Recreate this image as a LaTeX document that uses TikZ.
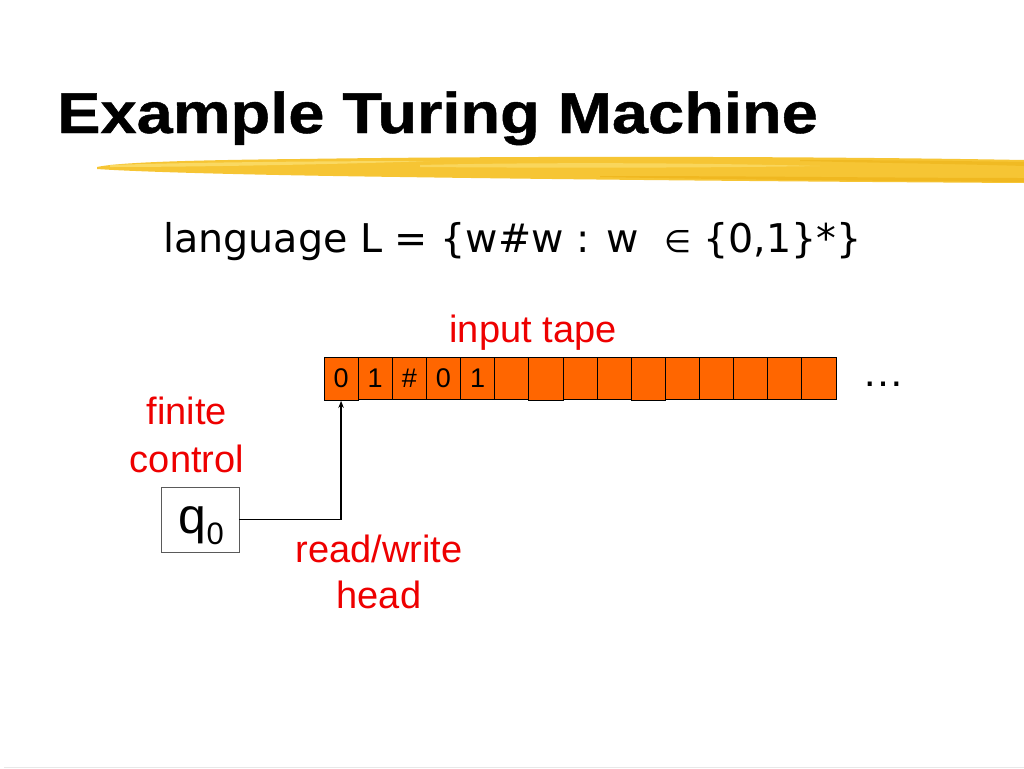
\documentclass[tikz,border=0pt]{standalone}
\usepackage{fontspec}
\setmainfont{Liberation Sans}
\newfontfamily\titlefont[FakeStretch=1.13,FakeBold=0.8]{Liberation Sans Bold}
\newfontfamily\langfont{DejaVu Sans}
\usetikzlibrary{arrows.meta}
\definecolor{tapeorange}{RGB}{255,102,0}
\definecolor{lblred}{RGB}{238,0,0}
\definecolor{brushA}{RGB}{246,197,52}
\definecolor{brushB}{RGB}{251,222,110}
\definecolor{brushC}{RGB}{236,176,20}
\definecolor{boxgray}{RGB}{90,90,90}
\tikzset{
  cell/.style={draw=black, line width=0.8pt, fill=tapeorange, minimum width=34.13pt, minimum height=42pt, inner sep=0pt, font=\fontsize{27}{27}\selectfont},
  redlbl/.style={text=lblred, inner sep=0pt, font=\fontsize{38}{38}\selectfont},
}
\begin{document}
\begin{tikzpicture}[x=1pt,y=-1pt]
\fill[white] (0,0) rectangle (1024,768);
\useasboundingbox (0,0) rectangle (1024,768);

% title
\node[anchor=base west, inner sep=0pt] (title) at (57,133) {\titlefont\fontsize{57.5}{60}\selectfont Example Turing Machine};

% yellow brush stroke
\fill[brushA] (97,167) .. controls (120,162) and (200,160) .. (300,159)
  .. controls (500,156) and (800,156) .. (1024,160) -- (1024,183)
  .. controls (850,182) and (600,180) .. (400,177)
  .. controls (250,175) and (140,172) .. (97,169) -- cycle;
\fill[brushB, opacity=0.8] (110,165) .. controls (200,162) and (350,161) .. (430,161)
  .. controls (350,164) and (200,167) .. (110,167) -- cycle;
\fill[brushB, opacity=0.7] (420,165) .. controls (550,162) and (700,163) .. (820,166)
  .. controls (700,168) and (550,168) .. (420,167) -- cycle;
\fill[brushC, opacity=0.6] (600,176) .. controls (750,176) and (900,178) .. (1024,178) -- (1024,182)
  .. controls (900,181) and (750,180) .. (600,177) -- cycle;
\fill[brushC, opacity=0.5] (800,160) .. controls (880,160) and (960,161) .. (1024,162) -- (1024,166)
  .. controls (960,164) and (880,163) .. (800,161) -- cycle;

% language line
\node[anchor=base west, inner sep=0pt] (lang) at (163,252) {\langfont\fontsize{39.6}{41}\selectfont language L = \{w\#w : w \ {\fontsize{31}{31}\selectfont ∈}\ \{0,1\}*\}};

% tape
\node[redlbl, anchor=base] (tapelbl) at (533,342) {input tape};
\foreach \i/\t in {0/0,1/1,2/\#,3/0,4/1,5/,6/,7/,8/,9/,10/,11/,12/,13/,14/} {
  \node[cell] (c\i) at ({324+34.13*\i+17.07},378.5) {\t};
}
\foreach \i in {0,6,9} {
  \node[cell, minimum height=43.5pt] (t\i) at ({324+34.13*\i+17.07},378.75) {};
}
\node[cell, draw=none, fill=none] at (c0) {0};
\node[anchor=base, inner sep=0pt] (dots) at (883,386) {\fontsize{42}{42}\selectfont …};

% finite control
\node[redlbl, anchor=base] (fin1) at (187,424) {finite};
\node[redlbl, anchor=base] (fin2) at (187,472) {control};
\node[draw=boxgray, line width=0.8pt, minimum width=78pt, minimum height=65pt, inner sep=0pt] (q) at (200,519.5) {};
\node[anchor=base west, inner sep=0pt] (qlabel) at (178.5,533.5) {\fontsize{50}{50}\selectfont q\raisebox{-10.5pt}{\fontsize{31}{31}\selectfont 0}};

% head
\draw[line width=1.2pt, -{Stealth[length=7pt,width=5.5pt]}] (q.east) -| (t0.south);
\node[redlbl, anchor=base] (rw1) at (379,562) {read/write};
\node[redlbl, anchor=base] (rw2) at (379,608) {head};

% bottom rule
\draw[black!9, line width=1pt] (4,767) -- (1024,767);
\end{tikzpicture}
\end{document}
